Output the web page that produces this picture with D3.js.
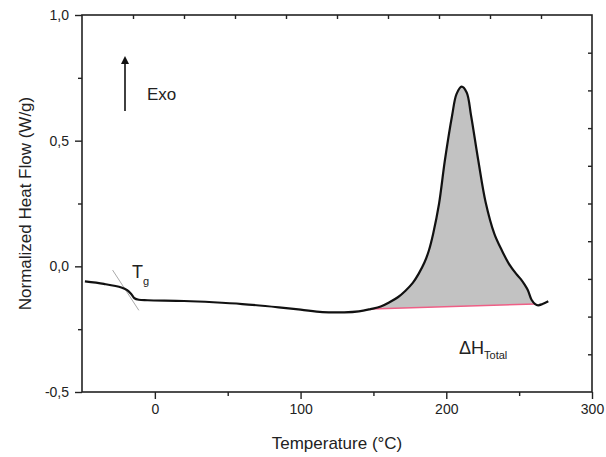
<!doctype html>
<html>
<head>
    <style>
        body { margin: 0; background: #fff; }
        text { font-family: "Liberation Sans", Arial, sans-serif; fill: #222; }
    </style>
    <script src="https://d3js.org/d3.v7.min.js"></script>
</head>
<body>
    <svg width="606" height="457"></svg>
    <script>
        // DSC trace
        var temps = [-48, -35, -23, -19, -16, -14, -11, -5, 20, 40, 60, 85, 100, 115, 130, 140,
                     148, 155, 161, 167, 172, 177, 181, 185, 188, 191, 195, 199, 204, 207, 210.5,
                     214, 217, 222, 227, 233, 238, 243, 248, 251, 254, 256, 258.5, 261, 263, 266, 270];
        var heatFlow = [-0.060, -0.070, -0.084, -0.095, -0.112, -0.127, -0.133, -0.135, -0.138, -0.143,
                        -0.150, -0.163, -0.172, -0.182, -0.183, -0.179,
                        -0.170, -0.160, -0.143, -0.122, -0.097, -0.066, -0.030, 0.015, 0.062, 0.13,
                        0.248, 0.42, 0.60, 0.685, 0.715, 0.692, 0.60, 0.42, 0.255, 0.129, 0.065,
                        0.010, -0.030, -0.050, -0.075, -0.095, -0.133, -0.150, -0.155, -0.150, -0.139];
        // integration baseline (start / end)
        var baseT = [148, 261];
        var baseV = [-0.170, -0.150];
        // Tg tangent
        var tgT = [-29, -11];
        var tgV = [-0.015, -0.175];

        var xTicks = [0, 100, 200, 300];
        var xMinor = [50, 150, 250];
        var yTicks = [-0.5, 0, 0.5, 1.0];
        var yMinor = [-0.25, 0.25, 0.75];
        var yLabels = ["-0,5", "0,0", "0,5", "1,0"];

        var svg = d3.select("svg");
        var pLeft = 82, pRight = 592, pTop = 15, pBottom = 392;

        var x = d3.scaleLinear().domain([-50, 300]).range([pLeft, pRight]);
        var y = d3.scaleLinear().domain([-0.5, 1.0]).range([pBottom, pTop]);

        var pts = temps.map(function(t, i) { return [t, heatFlow[i]]; });
        var line = d3.line()
            .x(function(d) { return x(d[0]); })
            .y(function(d) { return y(d[1]); })
            .curve(d3.curveCatmullRom);

        // shaded peak area
        var seg = pts.filter(function(d) { return d[0] >= baseT[0] && d[0] <= baseT[1]; });
        svg.append("path")
           .attr("d", line(seg) + "L" + x(baseT[1]) + "," + y(baseV[1]) + "L" + x(baseT[0]) + "," + y(baseV[0]) + "Z")
           .attr("fill", "#c2c2c2");

        svg.append("line")
           .attr("x1", x(baseT[0])).attr("y1", y(baseV[0]))
           .attr("x2", x(baseT[1])).attr("y2", y(baseV[1]))
           .attr("stroke", "#ee5f86").attr("stroke-width", 1.5);

        svg.append("line")
           .attr("x1", x(tgT[0])).attr("y1", y(tgV[0]))
           .attr("x2", x(tgT[1])).attr("y2", y(tgV[1]))
           .attr("stroke", "#aaa").attr("stroke-width", 1);

        svg.append("path")
           .attr("d", line(pts))
           .attr("fill", "none")
           .attr("stroke", "#111")
           .attr("stroke-width", 2.2);

        // frame
        svg.append("rect")
           .attr("x", pLeft).attr("y", pTop)
           .attr("width", pRight - pLeft).attr("height", pBottom - pTop)
           .attr("fill", "none").attr("stroke", "#222").attr("stroke-width", 1.6);

        // bottom axis
        svg.append("g").attr("transform", "translate(0," + pBottom + ")")
            .call(d3.axisBottom(x).tickValues(xTicks).tickSize(7).tickPadding(5).tickFormat(d3.format("d")));
        svg.append("g").attr("transform", "translate(0," + pBottom + ")")
            .call(d3.axisBottom(x).tickValues(xMinor).tickSize(4).tickFormat(""));

        // left axis
        svg.append("g").attr("transform", "translate(" + pLeft + ",0)")
            .call(d3.axisLeft(y).tickValues(yTicks).tickSize(7).tickPadding(6)
                  .tickFormat(function(d, i) { return yLabels[i]; }));
        svg.append("g").attr("transform", "translate(" + pLeft + ",0)")
            .call(d3.axisLeft(y).tickValues(yMinor).tickSize(4).tickFormat(""));

        // top and right frame ticks (inward)
        var fr = d3.range(1, 10);
        var fracX = d3.scaleLinear().domain([0, 10]).range([pLeft, pRight]);
        var fracY = d3.scaleLinear().domain([0, 10]).range([pBottom, pTop]);
        svg.append("g").attr("transform", "translate(0," + pTop + ")")
            .call(d3.axisBottom(fracX).tickValues(fr).tickFormat("")
                  .tickSizeInner(4));
        svg.append("g").attr("transform", "translate(" + pRight + ",0)")
            .call(d3.axisLeft(fracY).tickValues(fr).tickFormat("").tickSizeInner(4));

        svg.selectAll(".domain").remove();
        svg.selectAll(".tick line").attr("stroke", "#222").attr("stroke-width", 1.4);
        svg.selectAll(".tick text").attr("font-size", "14px").attr("fill", "#222")
           .attr("font-family", "Liberation Sans, Arial, sans-serif");

        // titles
        svg.append("text")
           .attr("x", (pLeft + pRight) / 2).attr("y", 449)
           .attr("text-anchor", "middle").attr("font-size", "17px")
           .text("Temperature (°C)");
        svg.append("text")
           .attr("transform", "translate(31," + ((pTop + pBottom) / 2) + ") rotate(-90)")
           .attr("text-anchor", "middle").attr("font-size", "17px")
           .text("Normalized Heat Flow (W/g)");

        // Exo arrow
        svg.append("defs").append("marker")
           .attr("id", "ah").attr("viewBox", "0 0 10 10")
           .attr("refX", 5).attr("refY", 5)
           .attr("markerWidth", 5).attr("markerHeight", 7)
           .attr("orient", "auto")
           .append("path").attr("d", "M0,0L10,5L0,10Z").attr("fill", "#111");
        svg.append("line")
           .attr("x1", 125).attr("y1", 111).attr("x2", 125).attr("y2", 60)
           .attr("stroke", "#111").attr("stroke-width", 1.6)
           .attr("marker-end", "url(#ah)");
        svg.append("text").attr("x", 147).attr("y", 100).attr("font-size", "17px").text("Exo");

        // Tg label
        var tg = svg.append("text").attr("x", 132).attr("y", 278).attr("font-size", "18px");
        tg.append("tspan").text("T");
        tg.append("tspan").attr("dy", 7).attr("font-size", "11px").text("g");

        // dH label
        var dh = svg.append("text").attr("x", 459).attr("y", 354).attr("font-size", "18px");
        dh.append("tspan").text("ΔH");
        dh.append("tspan").attr("dy", 5).attr("font-size", "11px").text("Total");
    </script>
</body>
</html>
